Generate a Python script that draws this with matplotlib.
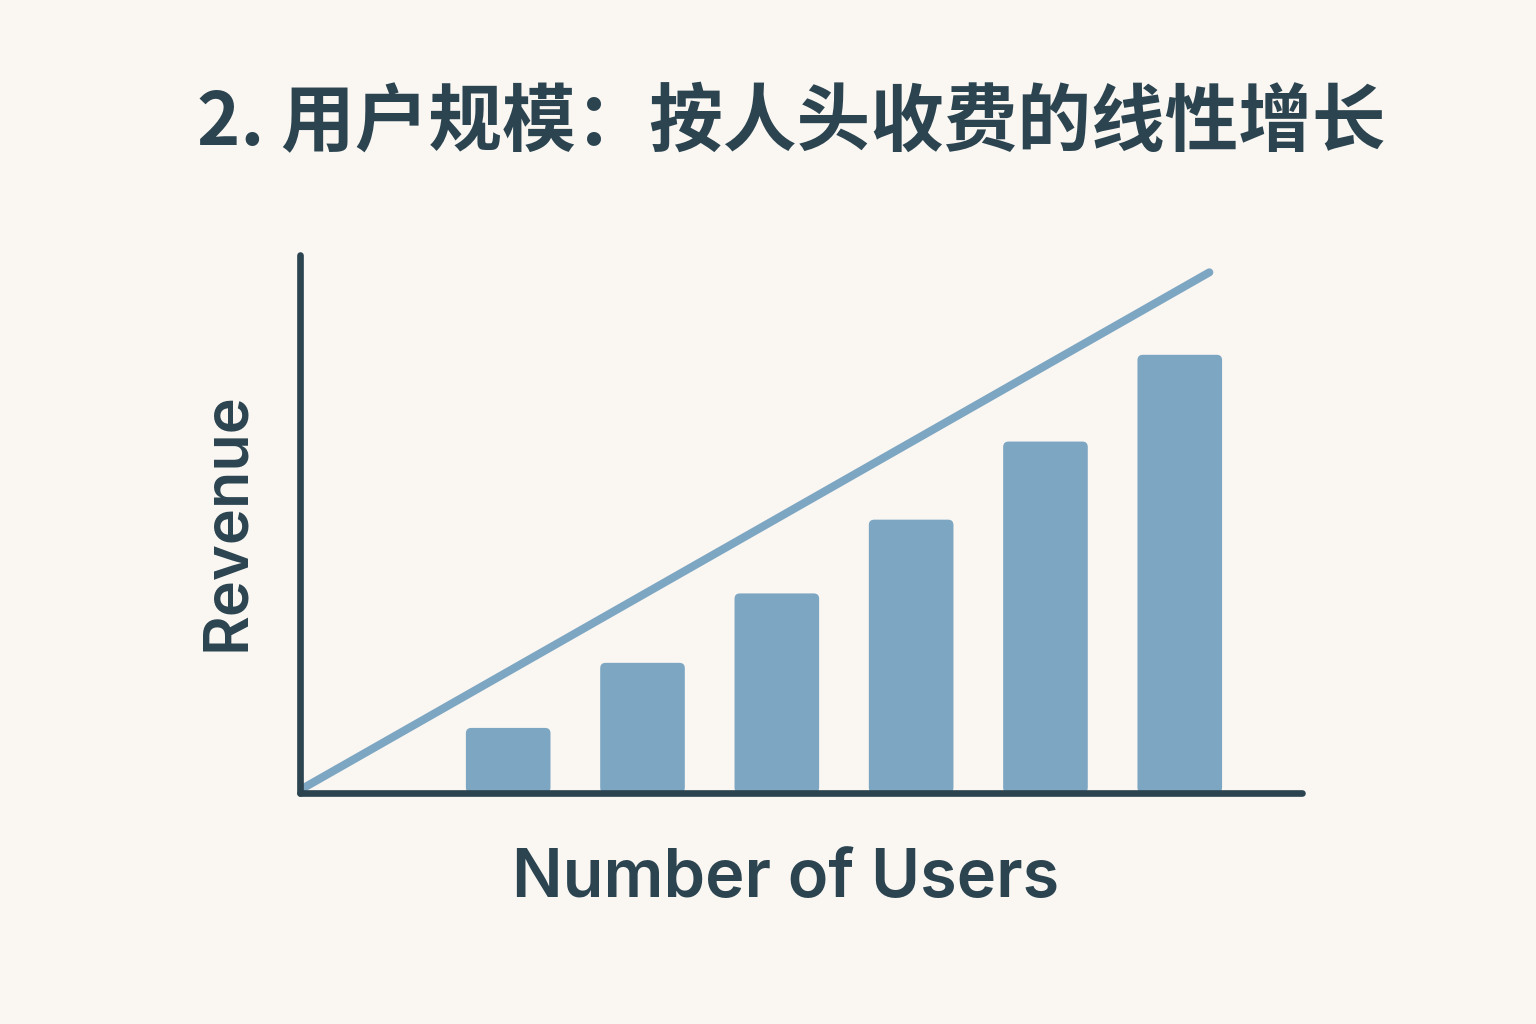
import matplotlib
matplotlib.use("Agg")
import matplotlib.pyplot as plt
from matplotlib.patches import FancyBboxPatch

# chart data
user_groups = [1, 2, 3, 4, 5, 6]
revenue = [15, 30, 46, 63, 81, 101]
trend_x = [-0.55, 6.22]
trend_y = [0.7, 120]

title = "2. 用户规模：按人头收费的线性增长"
x_label = "Number of Users"
y_label = "Revenue"

bg = "#faf7f3"
dark = "#2b4450"
blue = "#7da6c2"

fig = plt.figure(figsize=(15.36, 10.24), dpi=100, facecolor=bg)
ax = fig.add_axes([300 / 1536, 231 / 1024, 1002 / 1536, 538 / 1024])
ax.set_facecolor(bg)

bars = ax.bar(user_groups, revenue, width=0.63, color=blue)
# swap the plain bars for slightly rounded ones
aspect = 134.4 / 4.34
for b in bars:
    x0, y0 = b.get_x(), b.get_y()
    w, h = b.get_width(), b.get_height()
    b.remove()
    ax.add_patch(FancyBboxPatch((x0, y0), w, h,
                                boxstyle="round,pad=0,rounding_size=0.04",
                                mutation_aspect=aspect, fc=blue, ec="none", zorder=2))

ax.plot(trend_x, trend_y, color=blue, lw=5.8, solid_capstyle="round", zorder=3)

ax.set_xlim(-0.55, 6.91)
ax.set_ylim(0, 124)
ax.set_xticks([])
ax.set_yticks([])
for side in ["top", "right"]:
    ax.spines[side].set_visible(False)
for side in ["left", "bottom"]:
    ax.spines[side].set_color(dark)
    ax.spines[side].set_linewidth(4.8)
    ax.spines[side].set_capstyle("round")
    ax.spines[side].set_zorder(4)

fig.text(0.515, 1 - 124 / 1024, title, ha="center", va="center", fontsize=53,
         fontweight="heavy", color=dark,
         family=["Noto Sans CJK SC", "DejaVu Sans"])
fig.text(786 / 1536, 1 - 880 / 1024, x_label, ha="center", va="center",
         fontsize=48, fontweight="semibold", color=dark, family=["Inter", "DejaVu Sans"])
fig.text(228 / 1536, 1 - 522 / 1024, y_label, ha="center", va="center",
         rotation=90, fontsize=44, fontweight="semibold", color=dark,
         family=["Inter", "DejaVu Sans"])

fig.savefig("out.png", dpi=100, facecolor=bg)
